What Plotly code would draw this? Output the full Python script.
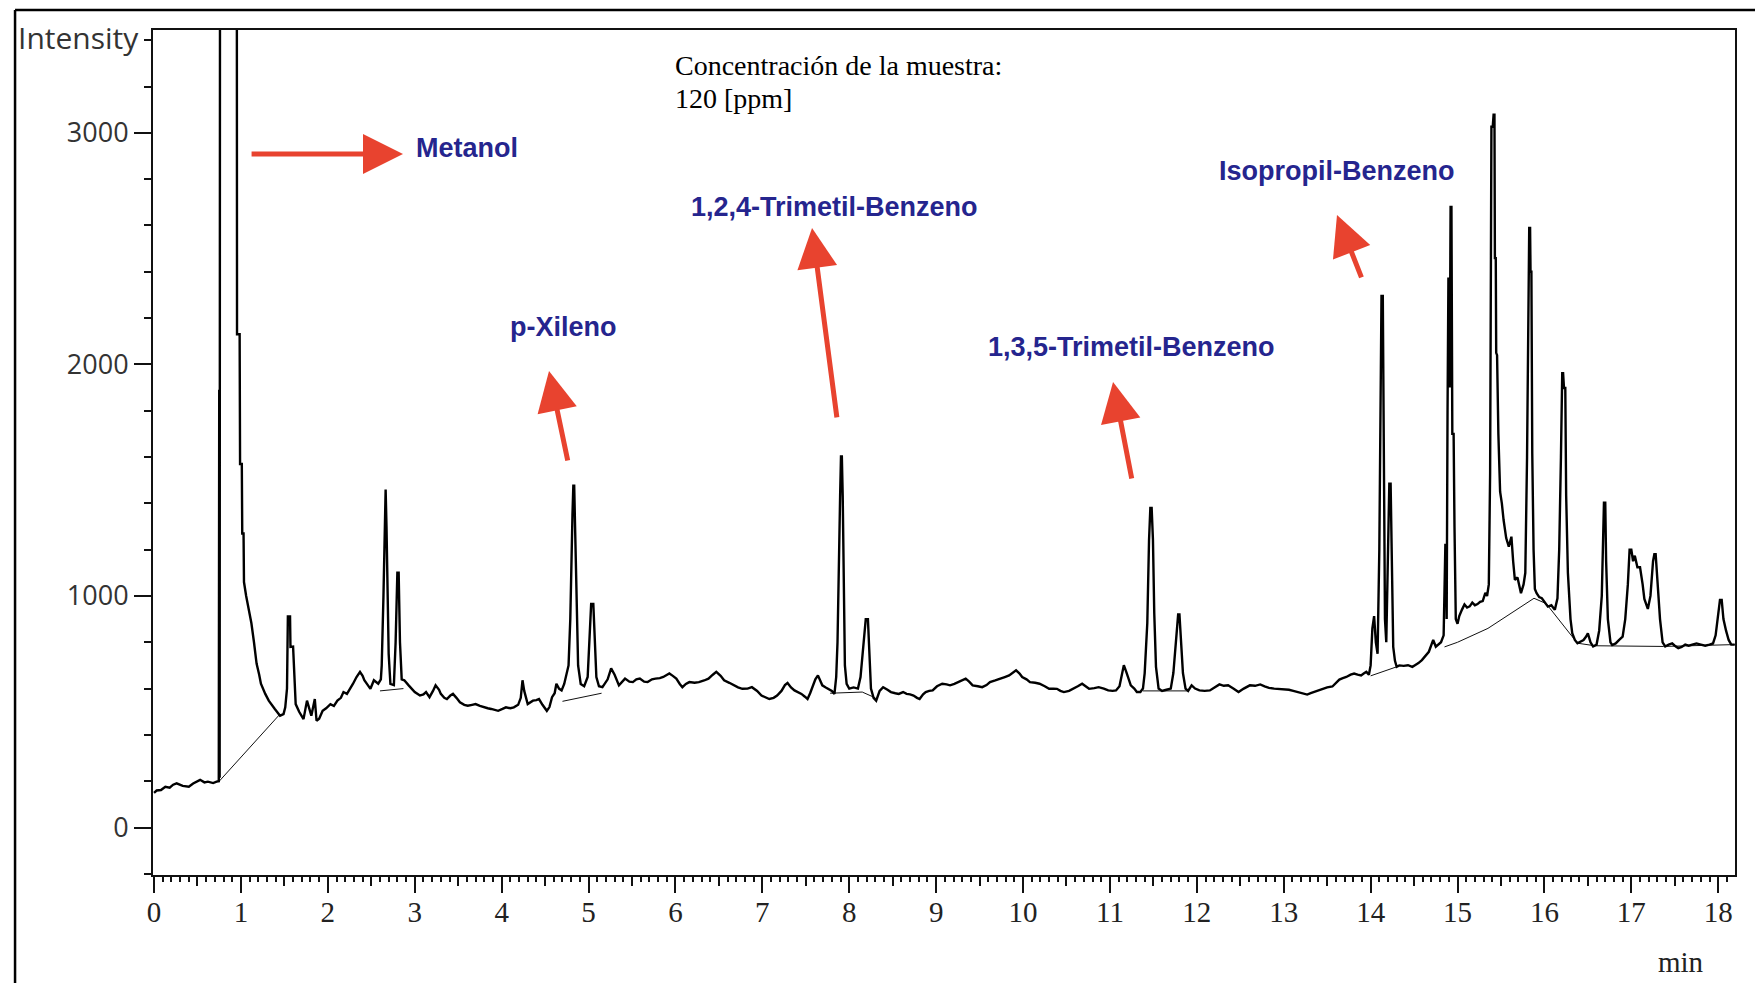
import plotly.graph_objects as go

# ---------------- data ----------------
retention_time = [
    0.00, 0.03, 0.08, 0.13, 0.18, 0.22, 0.26, 0.33, 0.40, 0.45, 0.53, 0.58, 0.62, 0.68, 0.72, 0.745,
    0.75, 0.755, 0.765, 0.945, 0.955, 0.985, 0.99, 1.01, 1.015, 1.03, 1.035, 1.06, 1.09, 1.12, 1.15,
    1.18, 1.21, 1.23, 1.28, 1.32, 1.39, 1.45, 1.49, 1.51,
    1.53, 1.54, 1.565, 1.57, 1.60, 1.61, 1.63, 1.67, 1.72, 1.76, 1.79, 1.81, 1.85, 1.87, 1.90, 1.94,
    1.98, 2.03, 2.07, 2.11, 2.15, 2.18, 2.22, 2.26, 2.29, 2.33, 2.37, 2.40, 2.42, 2.46, 2.49, 2.53,
    2.58, 2.61,
    2.62, 2.64, 2.655, 2.665, 2.675, 2.685, 2.70, 2.72, 2.76, 2.78, 2.80, 2.815, 2.83, 2.85, 2.88,
    2.93, 2.97, 3.00, 3.06, 3.10, 3.13, 3.17, 3.21, 3.24, 3.28, 3.30, 3.34, 3.37, 3.41, 3.44, 3.48,
    3.52, 3.57, 3.61, 3.66, 3.70, 3.75, 3.79, 3.84, 3.88, 3.92, 3.96, 4.01, 4.05, 4.10, 4.14, 4.19,
    4.22, 4.24, 4.26, 4.30, 4.33, 4.36, 4.40, 4.43, 4.47, 4.52, 4.55, 4.58, 4.61, 4.63, 4.66, 4.69,
    4.72, 4.74,
    4.77, 4.79, 4.80, 4.815, 4.825, 4.835, 4.845, 4.86, 4.88, 4.91, 4.95, 4.99, 5.01, 5.03, 5.055,
    5.07, 5.09, 5.12, 5.16,
    5.22, 5.26, 5.30, 5.35, 5.42, 5.47, 5.51, 5.55, 5.59, 5.64, 5.68, 5.73, 5.77, 5.82, 5.86, 5.93,
    5.97, 6.01, 6.05, 6.08, 6.12, 6.16, 6.22, 6.27, 6.33, 6.38, 6.43, 6.47, 6.52, 6.56, 6.62, 6.67,
    6.72, 6.77, 6.83, 6.88, 6.94, 6.99, 7.04, 7.08, 7.13, 7.17, 7.22, 7.26, 7.29, 7.33, 7.37, 7.41,
    7.45, 7.49, 7.52, 7.55, 7.58, 7.61, 7.64, 7.67, 7.69, 7.73, 7.76, 7.80, 7.83,
    7.85, 7.865, 7.88, 7.895, 7.905, 7.915, 7.925, 7.935, 7.95, 7.97, 8.00, 8.05, 8.10, 8.13, 8.16,
    8.19, 8.215, 8.23, 8.25, 8.28, 8.31,
    8.35, 8.39, 8.44, 8.48, 8.53, 8.57, 8.62, 8.66, 8.70, 8.74, 8.78, 8.81, 8.85, 8.88, 8.92, 8.96,
    9.01, 9.07, 9.12, 9.16, 9.21, 9.25, 9.30, 9.34, 9.38, 9.42, 9.48, 9.53, 9.58, 9.62, 9.68, 9.73,
    9.79, 9.84, 9.88, 9.92, 9.96, 9.99, 10.04, 10.08, 10.14, 10.19, 10.25, 10.30, 10.35, 10.39,
    10.43, 10.47, 10.53, 10.58, 10.63, 10.68, 10.72, 10.76, 10.82, 10.87, 10.93, 10.98, 11.03,
    11.07, 11.11, 11.14, 11.16, 11.19, 11.22, 11.24, 11.28, 11.31, 11.35,
    11.38, 11.40, 11.43, 11.45, 11.465, 11.48, 11.495, 11.51, 11.53, 11.56, 11.60, 11.65, 11.70,
    11.73, 11.76, 11.785, 11.80, 11.82, 11.84, 11.87, 11.90,
    11.94, 11.98, 12.03, 12.09, 12.15, 12.20, 12.26, 12.31, 12.36, 12.42, 12.48, 12.54, 12.61,
    12.67, 12.73, 12.78, 12.83, 12.89, 12.94, 13.00, 13.06, 13.11, 13.17, 13.22, 13.27, 13.31,
    13.35, 13.40, 13.45, 13.50, 13.56, 13.60, 13.64, 13.68, 13.72, 13.77, 13.81, 13.85, 13.89,
    13.92, 13.95, 13.98,
    14.00, 14.02, 14.04, 14.06, 14.08, 14.10, 14.115, 14.125, 14.14, 14.15, 14.165, 14.18, 14.20,
    14.215, 14.23, 14.245, 14.26, 14.28, 14.30,
    14.33, 14.38, 14.43, 14.48, 14.51, 14.55, 14.59, 14.63, 14.67, 14.70, 14.72, 14.75, 14.78,
    14.81, 14.84,
    14.86, 14.87, 14.875, 14.885, 14.895, 14.905, 14.91, 14.92, 14.93, 14.94, 14.955, 14.965,
    14.98, 15.00,
    15.02, 15.05, 15.08, 15.11, 15.14, 15.17, 15.20, 15.23, 15.26, 15.29, 15.32, 15.34,
    15.36, 15.375, 15.385, 15.39, 15.405, 15.415, 15.425, 15.43, 15.44, 15.445, 15.455, 15.47,
    15.49, 15.51, 15.53, 15.56, 15.59, 15.62, 15.64, 15.66, 15.69, 15.71, 15.73, 15.76,
    15.78, 15.80, 15.815, 15.825, 15.835, 15.84, 15.85, 15.86, 15.875, 15.89, 15.91, 15.94, 15.97,
    16.00, 16.04, 16.08, 16.12, 16.15,
    16.17, 16.19, 16.205, 16.215, 16.225, 16.24, 16.25, 16.27, 16.30, 16.32, 16.35, 16.38, 16.42,
    16.45, 16.48, 16.50, 16.53, 16.56, 16.60, 16.63,
    16.66, 16.675, 16.685, 16.70, 16.71, 16.73, 16.76, 16.78, 16.82, 16.86, 16.90, 16.93, 16.96,
    16.98, 17.00, 17.02, 17.04, 17.07, 17.10, 17.13, 17.15, 17.19, 17.22, 17.25, 17.265, 17.28,
    17.30, 17.33, 17.36, 17.39, 17.43, 17.47, 17.50, 17.54, 17.58, 17.62, 17.66, 17.70, 17.75,
    17.80, 17.85, 17.90, 17.94, 17.97, 17.99, 18.01, 18.02, 18.04, 18.06, 18.09, 18.12, 18.15, 18.19,
]

intensity = [
    150, 160, 162, 176, 172, 185, 191, 180, 176, 190, 206, 195, 198, 192, 198, 200,
    1890, 215, 9000, 9000, 2130, 2130, 1570, 1570, 1270, 1270, 1060, 1000, 940, 883, 800,
    708, 660, 621, 577, 548, 512, 483, 490, 519,
    600, 912, 912, 780, 781, 700, 533, 500, 468, 548, 510, 483, 555, 461, 470, 504,
    515, 533, 525, 548, 560, 585, 577, 600, 621, 650, 672, 655, 636, 615, 599, 636,
    621, 640,
    700, 1000, 1300, 1460, 1300, 1000, 750, 620, 615, 800, 1100, 1100, 800, 640, 636,
    614, 600, 585, 570, 575, 585, 563, 590, 614, 595, 577, 560, 555, 570, 577, 560,
    541, 530, 526, 530, 533, 525, 519, 515, 512, 508, 504, 512, 519, 515, 519, 530,
    560, 636, 590, 533, 540, 548, 550, 555, 530, 504, 520, 563, 580, 621, 600, 592,
    620, 650,
    700, 900, 1150, 1350, 1476, 1476, 1300, 1000, 700, 620, 610, 650, 800, 966, 966,
    800, 650, 610, 606,
    640, 687, 660, 614, 643, 630, 628, 640, 643, 630, 628, 640, 643, 645, 650, 665,
    655, 643, 620, 606, 620, 628, 625, 628, 635, 643, 660, 672, 655, 636, 625, 614,
    605, 599, 600, 606, 590, 570, 560, 555, 560, 570, 590, 615, 624, 605, 592, 585,
    577, 565, 555, 580, 614, 640, 657, 635, 614, 605, 599, 590, 577,
    650, 800, 1230, 1430, 1602, 1602, 1430, 1000, 700, 620, 600, 605, 600, 650, 780,
    900, 900, 750, 600, 560, 548,
    590, 606, 595, 585, 580, 577, 585, 577, 575, 570, 560, 555, 575, 585, 590, 592,
    610, 621, 618, 614, 620, 628, 635, 643, 630, 614, 610, 606, 615, 628, 635, 643,
    650, 657, 670, 679, 665, 650, 640, 628, 625, 621, 610, 599, 600, 599,
    590, 585, 590, 599, 610, 621, 610, 599, 602, 606, 600, 592, 590,
    592, 610, 660, 701, 670, 630, 614, 600, 585, 585,
    600, 667, 883, 1243, 1380, 1380, 1243, 926, 694, 600, 590, 595, 600,
    667, 797, 920, 920, 797, 667, 600, 590,
    614, 600, 592, 590, 592, 605, 618, 612, 614, 600, 585, 600, 614,
    612, 618, 610, 603, 600, 599, 598, 595, 590, 585, 580, 574, 580,
    585, 592, 599, 605, 609, 625, 639, 645, 650, 660, 665, 660, 657,
    665, 672, 660,
    700, 860, 913, 800, 750, 1200, 1800, 2296, 2296, 1600, 900, 800, 1200,
    1485, 1485, 1100, 780, 720, 694,
    700, 698, 701, 694, 701, 710, 723, 740, 759, 790, 810, 781, 790,
    800, 830,
    1220, 1220, 900, 1800, 2370, 2370, 1900, 2680, 2680, 1700, 1700, 1300,
    900, 880,
    913, 940, 963, 950, 955, 971, 960, 965, 975, 978, 1013, 1000,
    1050, 1530, 2400, 3026, 3026, 3078, 3078, 2459, 2459, 2050, 2040, 1700,
    1450, 1400, 1328, 1250, 1213, 1256, 1150, 1069, 1080, 1040, 1012, 1050,
    1100, 1600, 2300, 2589, 2589, 2400, 2400, 1616, 1200, 1030, 1012, 995, 990,
    975, 954, 960, 940, 990,
    1200, 1600, 1962, 1962, 1898, 1898, 1435, 1100, 900, 839, 810, 796, 805,
    810, 825, 839, 800, 782, 790, 850,
    1000, 1250, 1403, 1403, 1150, 900, 800, 788, 795, 810, 824, 900, 1050,
    1200, 1200, 1150, 1174, 1124, 1124, 1050, 987, 944, 1000, 1150, 1180, 1180,
    1050, 900, 800, 782, 790, 795, 785, 775, 780, 790, 785, 790, 795,
    790, 785, 790, 795, 830, 900, 940, 983, 983, 900, 850, 810, 790, 790,
]

# integration baseline segments (None separates segments)
baseline_time = [0.75, 1.45, None, 2.60, 2.87, None, 4.70, 5.15, None, 7.78, 8.15, 8.30, None,
                 11.38, 11.90, None, 14.00, 14.30, None,
                 14.85, 15.00, 15.35, 15.88, 16.02, 16.38, 16.58, 17.37, 18.19]
baseline_intensity = [200, 490, None, 590, 600, None, 545, 580, None, 580, 585, 560, None,
                      590, 590, None, 655, 694, None,
                      780, 800, 860, 990, 967, 796, 785, 782, 790]

# compound labels and arrows (time in min, intensity)
compound_names = ["Metanol", "p-Xileno", "1,2,4-Trimetil-Benzeno",
                  "1,3,5-Trimetil-Benzeno", "Isopropil-Benzeno"]
label_time = [2.99, 4.71, 7.83, 11.25, 13.61]
label_intensity = [2934, 2161, 2680, 2075, 2835]
label_anchor = ["left", "center", "center", "center", "center"]
arrow_head_time = [2.865, 4.545, 7.572, 11.036, 13.613]
arrow_head_intensity = [2908, 1971, 2589, 1924, 2645]
arrow_tail_time = [1.105, 4.764, 7.860, 11.254, 13.901]
arrow_tail_intensity = [2908, 1578, 1765, 1501, 2369]

x_major_ticks = list(range(0, 19))
x_half_ticks = [v + 0.5 for v in range(0, 18)]
y_major_ticks = [0, 1000, 2000, 3000]
note_lines = ["Concentración de la muestra:", "120 [ppm]"]

# ---------------- figure ----------------
fig = go.Figure()
fig.add_trace(go.Scatter(x=baseline_time, y=baseline_intensity, mode="lines",
                         line=dict(color="#111111", width=1), connectgaps=False,
                         hoverinfo="skip", showlegend=False))
fig.add_trace(go.Scatter(x=retention_time, y=intensity, mode="lines",
                         line=dict(color="#000000", width=2.4), showlegend=False))
# helper trace so the overlaying half-minute tick axis is rendered
fig.add_trace(go.Scatter(x=[None], y=[None], xaxis="x2", mode="lines",
                         showlegend=False, hoverinfo="skip"))

XR = [-0.012, 18.193]
YR = [-205, 3444]

fig.update_layout(
    width=1755, height=975,
    margin=dict(l=145, r=28, t=22, b=108),
    paper_bgcolor="white", plot_bgcolor="white",
    showlegend=False,
    xaxis=dict(range=XR, tickvals=x_major_ticks, ticks="outside", ticklen=16, tickwidth=2,
               tickcolor="#111", showline=True, linecolor="#111", linewidth=2, mirror=True,
               showgrid=False, zeroline=False, ticklabelstandoff=-6,
               tickfont=dict(family="Liberation Serif", size=29, color="#222"),
               minor=dict(dtick=0.1, tick0=0, ticks="outside", ticklen=5, tickwidth=1.5,
                          tickcolor="#111", showgrid=False)),
    xaxis2=dict(range=XR, overlaying="x", anchor="y", side="bottom", tickvals=x_half_ticks,
                ticks="outside", ticklen=10, tickwidth=1.5, tickcolor="#111",
                showticklabels=False, showline=False, showgrid=False, zeroline=False),
    yaxis=dict(range=YR, tickvals=y_major_ticks, ticks="outside", ticklen=17, tickwidth=2,
               tickcolor="#111", showline=True, linecolor="#111", linewidth=2, mirror=True,
               showgrid=False, zeroline=False,
               tickfont=dict(family="Open Sans", size=27, color="#333"),
               minor=dict(dtick=200, tick0=0, ticks="outside", ticklen=7, tickwidth=1.5,
                          tickcolor="#111", showgrid=False)),
)

annotations = []
for name, tx, iy, anc in zip(compound_names, label_time, label_intensity, label_anchor):
    annotations.append(dict(x=tx, y=iy, xref="x", yref="y", text="<b>" + name + "</b>",
                            showarrow=False, xanchor=anc, yanchor="middle",
                            font=dict(family="Liberation Sans", size=27, color="#25258e")))
for hx, hy, tx, ty in zip(arrow_head_time, arrow_head_intensity, arrow_tail_time, arrow_tail_intensity):
    annotations.append(dict(x=hx, y=hy, xref="x", yref="y", ax=tx, ay=ty, axref="x", ayref="y",
                            text="", showarrow=True, arrowhead=2, arrowsize=1.6, arrowwidth=5,
                            arrowcolor="#e8432f", standoff=0, startstandoff=0))
for line_text, py in zip(note_lines, [0.9574, 0.9195]):
    annotations.append(dict(x=0.3287, y=py, xref="paper", yref="paper", text=line_text,
                            showarrow=False, xanchor="left", yanchor="middle", align="left",
                            font=dict(family="Liberation Serif", size=28, color="#000")))
annotations.append(dict(x=-0.0076, y=3412, xref="paper", yref="y", text="Intensity",
                        showarrow=False, xanchor="right", yanchor="middle",
                        font=dict(family="Open Sans", size=30, color="#333")))
annotations.append(dict(x=17.57, y=-0.103, xref="x", yref="paper", text="min",
                        showarrow=False, xanchor="center", yanchor="middle",
                        font=dict(family="Liberation Serif", size=29, color="#222")))
fig.update_layout(annotations=annotations)

# outer frame of the figure (left and top edges)
fig.add_shape(type="line", xref="paper", yref="paper", x0=-0.0872, x1=-0.0872, y0=-0.2, y1=1.0237,
              line=dict(color="#000", width=2.5))
fig.add_shape(type="line", xref="paper", yref="paper", x0=-0.0872, x1=1.05, y0=1.0237, y1=1.0237,
              line=dict(color="#000", width=2.5))

fig.write_html("out.html")
